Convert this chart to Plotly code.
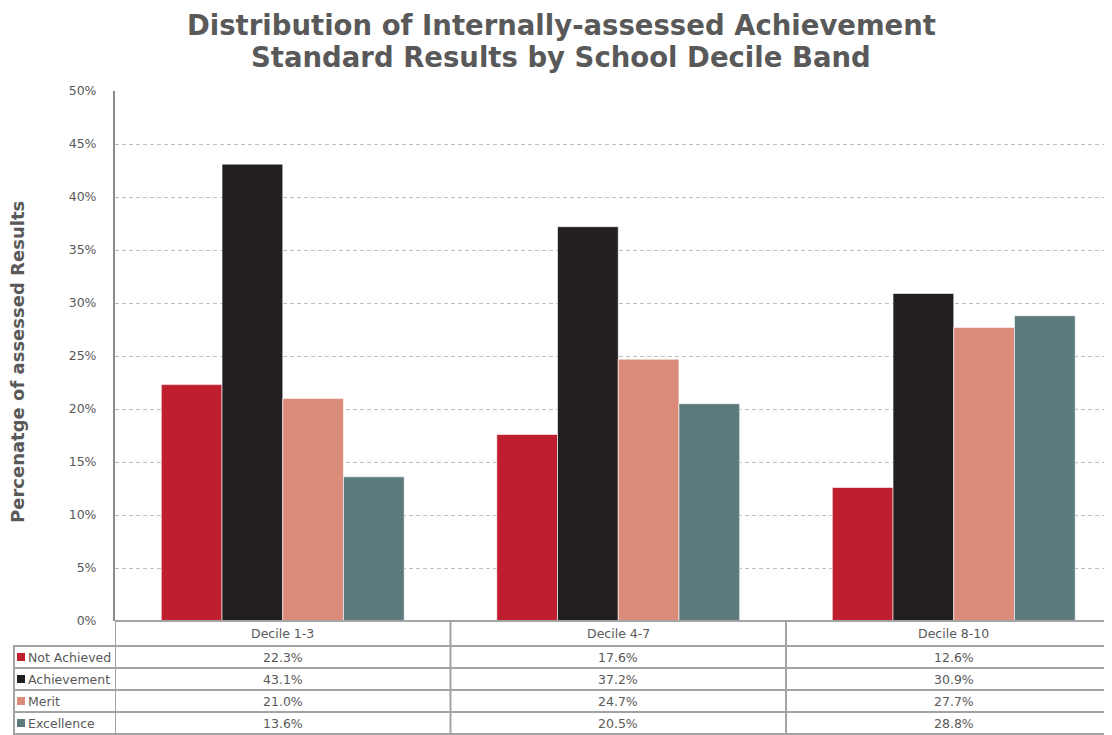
import plotly.graph_objects as go

deciles = ['Decile 1-3', 'Decile 4-7', 'Decile 8-10']
result_levels = ['Not Achieved', 'Achievement', 'Merit', 'Excellence']
not_achieved = [22.3, 17.6, 12.6]
achievement = [43.1, 37.2, 30.9]
merit = [21.0, 24.7, 27.7]
excellence = [13.6, 20.5, 28.8]
y_ticks = [0, 5, 10, 15, 20, 25, 30, 35, 40, 45, 50]
title_lines = ['Distribution of Internally-assessed Achievement',
               'Standard Results by School Decile Band']

series = [not_achieved, achievement, merit, excellence]
colors = ['#BE1E2D', '#231F20', '#DB8B7A', '#5D7B7D']

# page is offset by the 8px body margin
OFF = 8
W, H = 1112 - OFF, 735 - OFF
L, R, T, B = 115 - OFF, 0, 91 - OFF, 114
plot_w = W - L - R
plot_h = H - T - B
grey = '#595959'
border = '#A3A3A3'
band_px = 335.5


def px(x):
    return (x - 115) / plot_w


def py(y):
    return (621 - y) / plot_h


fig = go.Figure()
for name, vals, col in zip(result_levels, series, colors):
    fig.add_trace(go.Bar(
        x=deciles, y=vals, name=name,
        marker=dict(color=col, line=dict(color='rgba(255,255,255,0.6)', width=1)),
    ))

# data table under the plot
row_lines = [621, 646, 668, 690, 712, 734]
shapes = []
for i, yy in enumerate(row_lines):
    if i == 0:
        shapes.append(dict(type='line', xref='x', yref='paper', x0=-0.5, x1=2.6,
                           y0=py(yy), y1=py(yy), line=dict(color=border, width=2)))
    else:
        shapes.append(dict(type='line', xref='paper', yref='paper', x0=px(13), x1=1.02,
                           y0=py(yy), y1=py(yy), line=dict(color=border, width=2)))
shapes.append(dict(type='line', xref='paper', yref='paper', x0=px(14), x1=px(14),
                   y0=py(646), y1=py(734), line=dict(color=border, width=2)))
for xv in [-0.5, 0.5, 1.5]:
    shapes.append(dict(type='line', xref='x', yref='paper', x0=xv, x1=xv,
                       y0=py(621), y1=py(734), line=dict(color=border, width=2)))

cell_font = dict(size=12.5, color=grey)
annotations = []
for d in deciles:
    annotations.append(dict(x=d, xref='x', y=py(633.5), yref='paper', text=d,
                            xanchor='center', yanchor='middle',
                            showarrow=False, font=cell_font))
for r, (name, vals, col) in enumerate(zip(result_levels, series, colors)):
    yc = (row_lines[r + 1] + row_lines[r + 2]) / 2
    shapes.append(dict(type='rect', xref='paper', yref='paper', x0=px(17), x1=px(25),
                       y0=py(yc + 4), y1=py(yc - 4), fillcolor=col, line=dict(width=0)))
    annotations.append(dict(x=px(26), xref='paper', y=py(yc), yref='paper', text=name,
                            xanchor='left', yanchor='middle', showarrow=False, font=cell_font))
    for d, v in zip(deciles, vals):
        annotations.append(dict(x=d, xref='x', y=py(yc), yref='paper', text=f'{v:.1f}%',
                                xanchor='center', yanchor='middle',
                                showarrow=False, font=cell_font))

annotations.append(dict(x=px(17), xref='paper', y=py(362), yref='paper',
                        text='<b>Percenatge of assessed Results</b>', textangle=-90,
                        xanchor='center', yanchor='middle',
                        showarrow=False, font=dict(size=18, color=grey)))

for line, yc in zip(title_lines, [25, 57]):
    annotations.append(dict(x=px(561), xref='paper', y=py(yc), yref='paper',
                            text=f'<b>{line}</b>', xanchor='center', yanchor='middle',
                            showarrow=False, font=dict(size=27.5, color=grey)))

fig.update_layout(
    width=W, height=H,
    margin=dict(l=L, r=R, t=T, b=B),
    paper_bgcolor='white', plot_bgcolor='white',
    font=dict(family='DejaVu Sans, Verdana, sans-serif', color=grey),
    barmode='group', bargap=0.276, bargroupgap=0,
    showlegend=False,
    xaxis=dict(range=[-0.5, -0.5 + plot_w / band_px], showticklabels=False,
               showgrid=False, zeroline=False, showline=False),
    yaxis=dict(range=[0, 50], tickvals=y_ticks, ticktext=[f'{t}%' for t in y_ticks],
               tickfont=dict(size=12.5, color=grey), ticks='outside', ticklen=14,
               tickcolor='white',
               showgrid=True, gridcolor='#BFBFBF', griddash='4px,3px', gridwidth=1,
               zeroline=False, showline=True, linecolor='#8C8C8C', linewidth=2),
    shapes=shapes,
    annotations=annotations,
)

fig.write_html('out.html')
